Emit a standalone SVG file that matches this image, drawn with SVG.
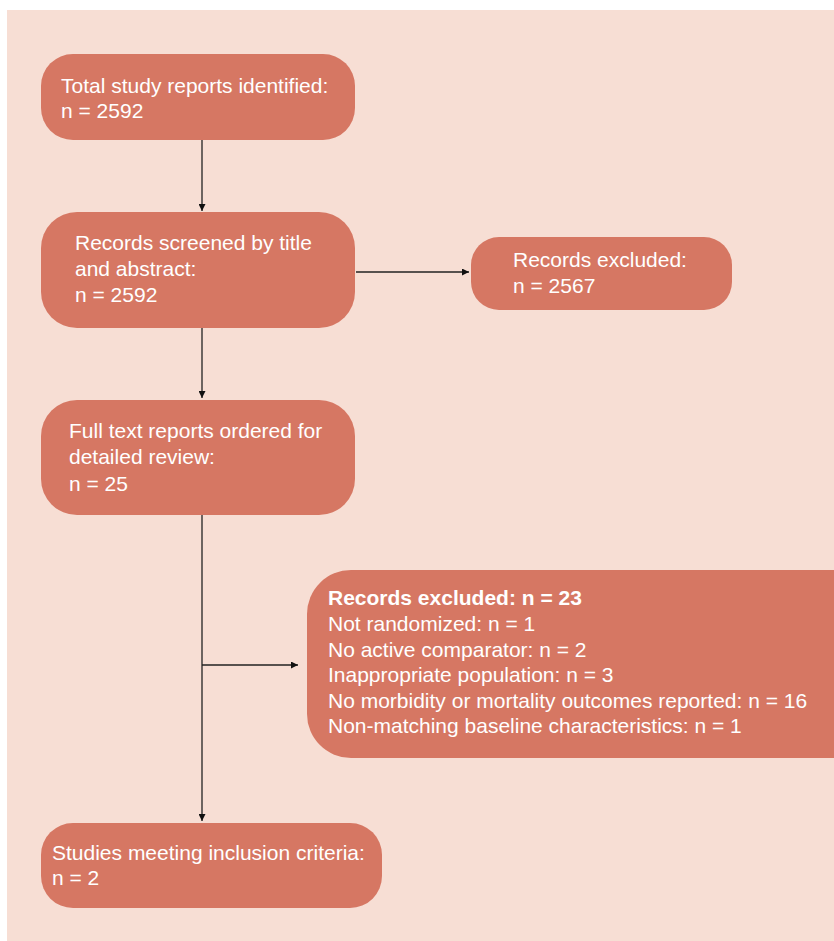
<svg xmlns="http://www.w3.org/2000/svg" width="834" height="941" viewBox="0 0 834 941">
<style>
.bg{fill:#F7DED4}
.box{fill:#D67763}
.t{font-family:"Liberation Sans",Arial,sans-serif;font-size:21px;fill:#FFFFFF}
.b{font-weight:bold}
.c{stroke:#222;stroke-width:1.3;fill:none}
</style>
<defs>
<marker id="ah" viewBox="0 0 10 10" refX="10" refY="5" markerWidth="11" markerHeight="7" markerUnits="userSpaceOnUse" orient="auto">
<path d="M0,0 L10,5 L0,10 z" fill="#111"/>
</marker>
</defs>
<rect x="0" y="0" width="834" height="941" fill="#FFFFFF"/>
<rect class="bg" x="7" y="10" width="827" height="931"/>
<g id="connectors">
<line class="c" x1="202" y1="140" x2="202" y2="211" marker-end="url(#ah)"/>
<line class="c" x1="202" y1="328" x2="202" y2="398" marker-end="url(#ah)"/>
<line class="c" x1="202" y1="515" x2="202" y2="821" marker-end="url(#ah)"/>
<line class="c" x1="356" y1="272" x2="469" y2="272" marker-end="url(#ah)"/>
<line class="c" x1="202" y1="665" x2="298" y2="665" marker-end="url(#ah)"/>
</g>
<g id="n1">
<rect class="box" x="41" y="54" width="314" height="86" rx="32" ry="32"/>
<text class="t" x="61" y="93">Total study reports identified:</text>
<text class="t" x="61" y="118">n = 2592</text>
</g>
<g id="n2">
<rect class="box" x="41" y="212" width="314" height="116" rx="36" ry="36"/>
<text class="t" x="75" y="250">Records screened by title</text>
<text class="t" x="75" y="276">and abstract:</text>
<text class="t" x="75" y="302">n = 2592</text>
</g>
<g id="n3">
<rect class="box" x="471" y="237" width="261" height="73" rx="28" ry="28"/>
<text class="t" x="513" y="267">Records excluded:</text>
<text class="t" x="513" y="293">n = 2567</text>
</g>
<g id="n4">
<rect class="box" x="41" y="400" width="314" height="115" rx="36" ry="36"/>
<text class="t" x="69" y="438">Full text reports ordered for</text>
<text class="t" x="69" y="464">detailed review:</text>
<text class="t" x="69" y="491">n = 25</text>
</g>
<g id="n5">
<rect class="box" x="307" y="570" width="570" height="188" rx="44" ry="44"/>
<text class="t b" x="328" y="605">Records excluded: n = 23</text>
<text class="t" x="328" y="631">Not randomized: n = 1</text>
<text class="t" x="328" y="657">No active comparator: n = 2</text>
<text class="t" x="328" y="682">Inappropriate population: n = 3</text>
<text class="t" x="328" y="708">No morbidity or mortality outcomes reported: n = 16</text>
<text class="t" x="328" y="733">Non-matching baseline characteristics: n = 1</text>
</g>
<g id="n6">
<rect class="box" x="41" y="823" width="341" height="85" rx="32" ry="32"/>
<text class="t" x="52" y="860">Studies meeting inclusion criteria:</text>
<text class="t" x="52" y="885">n = 2</text>
</g>
</svg>
